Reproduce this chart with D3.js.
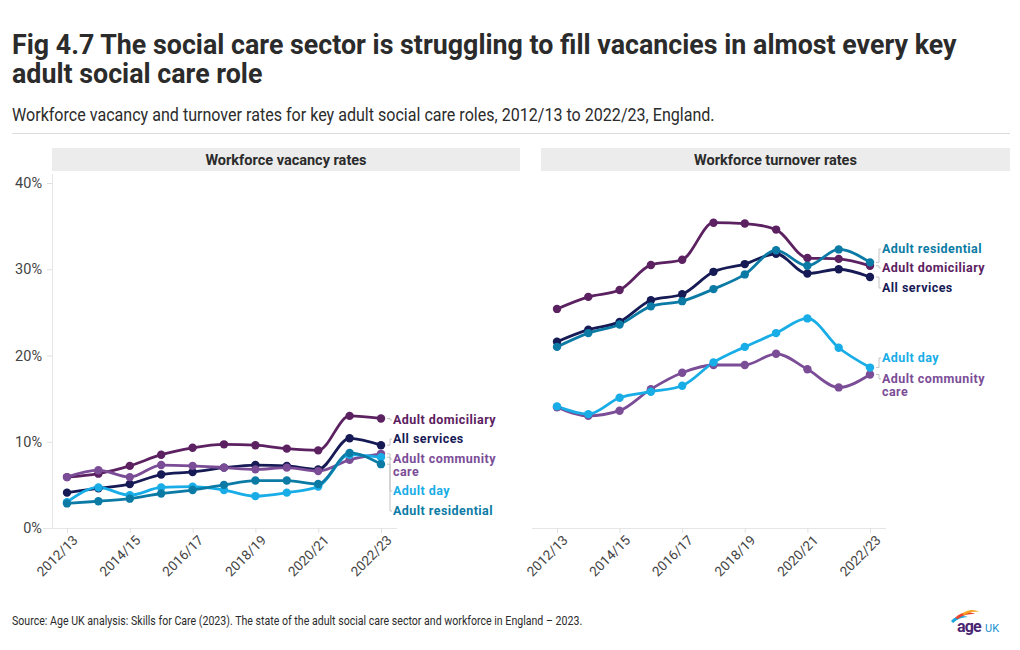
<!DOCTYPE html>
<html><head><meta charset="utf-8">
<script src="https://cdn.jsdelivr.net/npm/d3@7"></script>
<style>
body{margin:0;background:#fff;}
svg{display:block;}
</style></head>
<body><svg id="c" width="1020" height="650"></svg>
<script>
const years = ["2012/13","2013/14","2014/15","2015/16","2016/17","2017/18","2018/19","2019/20","2020/21","2021/22","2022/23"];
const tickYears = ["2012/13","2014/15","2016/17","2018/19","2020/21","2022/23"];
const yTicks = [0, 0.1, 0.2, 0.3, 0.4];
const seriesNames = ["Adult domiciliary","All services","Adult community care","Adult day","Adult residential"];
const seriesColors = ["#5c2161","#161a55","#7b4d97","#18ade6","#0b7ba5"];

// Vacancy rates (%)
const vacDomiciliary = [5.9,6.3,7.2,8.5,9.3,9.7,9.6,9.2,9.0,13.0,12.7];
const vacAll         = [4.1,4.6,5.1,6.2,6.5,7.0,7.3,7.2,6.8,10.4,9.6];
const vacCommunity   = [5.9,6.7,5.9,7.3,7.2,7.0,6.8,7.0,6.6,7.9,8.6];
const vacDay         = [3.0,4.7,3.8,4.7,4.8,4.4,3.7,4.1,4.8,8.5,8.2];
const vacResidential = [2.85,3.1,3.4,4.0,4.4,5.0,5.5,5.5,5.1,8.7,7.4];

// Turnover rates (%)
const turDomiciliary = [25.4,26.8,27.6,30.5,31.1,35.4,35.3,34.6,31.3,31.2,30.4];
const turAll         = [21.6,23.0,23.9,26.4,27.1,29.7,30.6,31.8,29.5,30.0,29.1];
const turCommunity   = [14.0,13.0,13.6,16.1,18.0,18.9,18.9,20.2,18.4,16.3,17.8];
const turDay         = [14.1,13.2,15.1,15.8,16.5,19.2,21.0,22.6,24.3,20.9,18.6];
const turResidential = [21.0,22.6,23.6,25.7,26.3,27.7,29.4,32.2,30.4,32.3,30.8];

const svg = d3.select("#c");
const FONT = "Roboto, 'Noto Sans', sans-serif";

// Condense text horizontally with a transform so its width matches target
function squeeze(x, y, size, weight, text, sx){
  const t = svg.append("text").attr("x",0).attr("y",0).attr("font-family",FONT).attr("font-weight",weight)
    .attr("font-size",size).attr("fill","#2b2b2b").text(text);
  t.attr("transform",`translate(${x},${y}) scale(${sx},1)`);
  return t;
}
function widthOf(size, weight, text){
  const t = svg.append("text").attr("font-family",FONT).attr("font-weight",weight).attr("font-size",size).text(text);
  const w = t.node().getComputedTextLength(); t.remove(); return w;
}

const title1 = "Fig 4.7 The social care sector is struggling to fill vacancies in almost every key";
const title2 = "adult social care role";
const sxT = 945 / widthOf(28.5, "bold", title1);
squeeze(12, 54, 28.5, "bold", title1, sxT);
squeeze(12, 83, 28.5, "bold", title2, sxT);
const sub = "Workforce vacancy and turnover rates for key adult social care roles, 2012/13 to 2022/23, England.";
squeeze(12, 121, 17.5, "normal", sub, 703 / widthOf(17.5, "normal", sub));
svg.append("line").attr("x1",12).attr("x2",1010).attr("y1",133.5).attr("y2",133.5).attr("stroke","#dcdcdc").attr("stroke-width",1);

const y = d3.scaleLinear().domain([0,0.4]).range([528,183]);

function panel(opts){
  const {x0,x1,stripX0,stripX1,title,data,labels,showY} = opts;
  const x = d3.scalePoint().domain(years).range([x0,x1]);
  const g = svg.append("g");
  g.append("rect").attr("x",stripX0).attr("y",148).attr("width",stripX1-stripX0).attr("height",23).attr("fill","#ececec");
  g.append("text").attr("x",(stripX0+stripX1)/2).attr("y",164.5).attr("text-anchor","middle")
    .attr("font-family",FONT).attr("font-weight","bold").attr("font-size",14.5).attr("fill","#2b2b2b").text(title);
  if(showY){
    g.append("line").attr("x1",stripX0+0.5).attr("x2",stripX0+0.5).attr("y1",174).attr("y2",528).attr("stroke","#e6e6e6");
    const ya = d3.axisLeft(y).tickValues(yTicks).tickFormat(d3.format(".0%")).tickSize(5).tickPadding(5);
    const ag = g.append("g").attr("transform",`translate(${stripX0},0)`).call(ya);
    ag.select(".domain").remove();
    ag.selectAll("line").attr("stroke","#e0e0e0");
    ag.selectAll("text").attr("font-family",FONT).attr("font-size",14.5).attr("fill","#444");
  }
  g.append("line").attr("x1",stripX0-9).attr("x2",x1+16).attr("y1",528.5).attr("y2",528.5).attr("stroke","#e6e6e6");
  const xa = d3.axisBottom(x).tickValues(tickYears).tickSize(5).tickPadding(4);
  const xg = g.append("g").attr("transform","translate(0,528)").call(xa);
  xg.select(".domain").remove();
  xg.selectAll("line").attr("stroke","#e0e0e0");
  xg.selectAll("text").attr("font-family",FONT).attr("font-size",13.5).attr("fill","#444")
    .attr("text-anchor","end").attr("dx","-0.1em").attr("dy","0.6em").attr("transform","rotate(-45)");

  const line = d3.line().x((d,i)=>x(years[i])).y(d=>y(d/100)).curve(d3.curveMonotoneX);
  data.forEach((s,k)=>{
    g.append("path").datum(s).attr("d",line).attr("fill","none").attr("stroke",seriesColors[k]).attr("stroke-width",2.8);
  });
  data.forEach((s,k)=>{
    g.selectAll(null).data(s).enter().append("circle")
      .attr("cx",(d,i)=>x(years[i])).attr("cy",d=>y(d/100)).attr("r",4.2).attr("fill",seriesColors[k]);
  });
  labels.forEach(l=>{
    const k = l.k;
    const endY = y(data[k][data[k].length-1]/100);
    const lx = x1 + 12;
    g.append("path").attr("d",`M${x1+6},${endY} L${lx-3},${endY} L${lx-3},${l.y-4} L${lx-1},${l.y-4}`)
      .attr("fill","none").attr("stroke","#c4c4c4").attr("stroke-width",1);
    l.lines.forEach((s,j)=>{
      g.append("text").attr("x",lx).attr("y",l.y + j*12.5).attr("font-family",FONT).attr("font-weight","bold")
        .attr("font-size",12.5).attr("letter-spacing","0.45").attr("fill",seriesColors[k]).text(s);
    });
  });
}

panel({x0:67,x1:381,stripX0:52,stripX1:520,title:"Workforce vacancy rates",showY:true,
  data:[vacDomiciliary,vacAll,vacCommunity,vacDay,vacResidential],
  labels:[{k:0,y:424,lines:["Adult domiciliary"]},{k:1,y:443,lines:["All services"]},
          {k:2,y:463,lines:["Adult community","care"]},{k:3,y:495,lines:["Adult day"]},{k:4,y:515,lines:["Adult residential"]}]});
panel({x0:557,x1:870,stripX0:541,stripX1:1010,title:"Workforce turnover rates",showY:false,
  data:[turDomiciliary,turAll,turCommunity,turDay,turResidential],
  labels:[{k:4,y:253,lines:["Adult residential"]},{k:0,y:272,lines:["Adult domiciliary"]},{k:1,y:292,lines:["All services"]},
          {k:3,y:362,lines:["Adult day"]},{k:2,y:383,lines:["Adult community","care"]}]});

// Source
const srcT = "Source: Age UK analysis: Skills for Care (2023). The state of the adult social care sector and workforce in England – 2023.";
squeeze(12, 625, 12.5, "normal", srcT, 571 / widthOf(12.5, "normal", srcT));

// Logo
const lg = svg.append("g").attr("transform","translate(950,611)");
lg.append("path").attr("d","M1,10 C5,5 12,4 18,6 C12,6 7,8 3,12 Z").attr("fill","#1aa3dd");
lg.append("path").attr("d","M5,7 C10,1 19,0 25,3 C19,3 12,4 8,8 Z").attr("fill","#e8452c");
lg.append("path").attr("d","M12,3 C17,-2 25,-2 29,1 C24,0 18,1 15,4 Z").attr("fill","#f5a623");
lg.append("text").attr("x",7).attr("y",21).attr("font-family",FONT).attr("font-weight","bold").attr("font-size",16)
  .attr("fill","#4b2672").attr("letter-spacing","-0.8").text("age");
lg.append("text").attr("x",35).attr("y",21).attr("font-family",FONT).attr("font-size",11).attr("fill","#1a8fd1").text("UK");
</script></body></html>
